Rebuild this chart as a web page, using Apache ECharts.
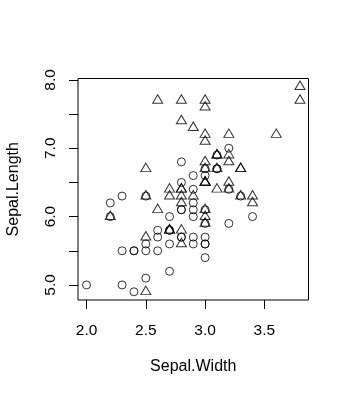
<!DOCTYPE html>
<html>
<head>
<meta charset="utf-8">
<script src="https://cdn.jsdelivr.net/npm/echarts@6/dist/echarts.min.js"></script>
<style>
  html, body { margin: 0; padding: 0; background: #fff; }
  #chart { width: 349px; height: 398px; }
</style>
</head>
<body>
<div id="chart"></div>
<script>
// Iris: versicolor (circles) and virginica (triangles)
var versicolorWidth = [3.2,3.2,3.1,2.3,2.8,2.8,3.3,2.4,2.9,2.7,2.0,3.0,2.2,2.9,2.9,3.1,3.0,2.7,2.2,2.5,
  3.2,2.8,2.5,2.8,2.9,3.0,2.8,3.0,2.9,2.6,2.4,2.4,2.7,2.7,3.0,3.4,3.1,2.3,3.0,2.5,
  2.6,3.0,2.6,2.3,2.7,3.0,2.9,2.9,2.5,2.8];
var versicolorLength = [7.0,6.4,6.9,5.5,6.5,5.7,6.3,4.9,6.6,5.2,5.0,5.9,6.0,6.1,5.6,6.7,5.6,5.8,6.2,5.6,
  5.9,6.1,6.3,6.1,6.4,6.6,6.8,6.7,6.0,5.7,5.5,5.5,5.8,6.0,5.4,6.0,6.7,6.3,5.6,5.5,
  5.5,6.1,5.8,5.0,5.6,5.7,5.7,6.2,5.1,5.7];
var virginicaWidth = [3.3,2.7,3.0,2.9,3.0,3.0,2.5,2.9,2.5,3.6,3.2,2.7,3.0,2.5,2.8,3.2,3.0,3.8,2.6,2.2,
  3.2,2.8,2.8,2.7,3.3,3.2,2.8,3.0,2.8,3.0,2.8,3.8,2.8,2.8,2.6,3.0,3.4,3.1,3.0,3.1,
  3.1,3.1,2.7,3.2,3.3,3.0,2.5,3.0,3.4,3.0];
var virginicaLength = [6.3,5.8,7.1,6.3,6.5,7.6,4.9,7.3,6.7,7.2,6.5,6.4,6.8,5.7,5.8,6.4,6.5,7.7,7.7,6.0,
  6.9,5.6,7.7,6.3,6.7,7.2,6.2,6.1,6.4,7.2,7.4,7.9,6.4,6.3,6.1,7.7,6.3,6.4,6.0,6.9,
  6.7,6.9,5.8,6.8,6.7,6.7,6.3,6.5,6.2,5.9];

var xTicks = [2.0, 2.5, 3.0, 3.5];
var yTicks = [5.0, 5.5, 6.0, 6.5, 7.0, 7.5, 8.0];
var yLabels = [5.0, 6.0, 7.0, 8.0];

function pairs(xs, ys) {
  return xs.map(function (x, i) { return [x, ys[i]]; });
}

var FONT = 'Liberation Sans, Arial, sans-serif';

var chart = echarts.init(document.getElementById('chart'), null, { renderer: 'canvas' });
chart.setOption({
  backgroundColor: '#fff',
  animation: false,
  grid: {
    left: 78, right: 40.5, top: 78.5, bottom: 98,
    outerBoundsMode: 'none',
    containLabel: false,
    show: true, borderColor: '#000', borderWidth: 1, backgroundColor: 'transparent'
  },
  xAxis: {
    type: 'value',
    min: 1.928, max: 3.872,
    name: 'Sepal.Width',
    nameLocation: 'middle',
    nameGap: 59,
    nameTextStyle: { color: '#000', fontFamily: FONT, fontSize: 16 },
    axisLine: { show: false },
    splitLine: { show: false },
    axisTick: {
      show: true, inside: false, length: 9,
      customValues: xTicks,
      lineStyle: { color: '#000', width: 1 }
    },
    axisLabel: {
      customValues: xTicks,
      margin: 23,
      color: '#000', fontFamily: FONT, fontSize: 15.5,
      formatter: function (v) { return Number(v).toFixed(1); }
    }
  },
  yAxis: {
    type: 'value',
    min: 4.78, max: 8.02,
    name: 'Sepal.Length',
    nameLocation: 'middle',
    nameGap: 56,
    nameRotate: 90,
    nameTextStyle: { color: '#000', fontFamily: FONT, fontSize: 16 },
    axisLine: { show: false },
    splitLine: { show: false },
    axisTick: {
      show: true, inside: false, length: 9,
      customValues: yTicks,
      lineStyle: { color: '#000', width: 1 }
    },
    axisLabel: {
      customValues: yLabels,
      rotate: 90,
      margin: 19,
      color: '#000', fontFamily: FONT, fontSize: 15.5,
      formatter: function (v) { return Number(v).toFixed(1); }
    }
  },
  series: [
    {
      name: 'versicolor',
      type: 'scatter',
      symbol: 'circle',
      symbolSize: 8,
      itemStyle: { color: 'rgba(0,0,0,0)', borderColor: '#000', borderWidth: 1 },
      data: pairs(versicolorWidth, versicolorLength)
    },
    {
      name: 'virginica',
      type: 'scatter',
      symbol: 'triangle',
      symbolSize: [10, 8.5],
      symbolOffset: [0, -1.4],
      itemStyle: { color: 'rgba(0,0,0,0)', borderColor: '#000', borderWidth: 1 },
      data: pairs(virginicaWidth, virginicaLength)
    }
  ]
});
</script>
</body>
</html>
